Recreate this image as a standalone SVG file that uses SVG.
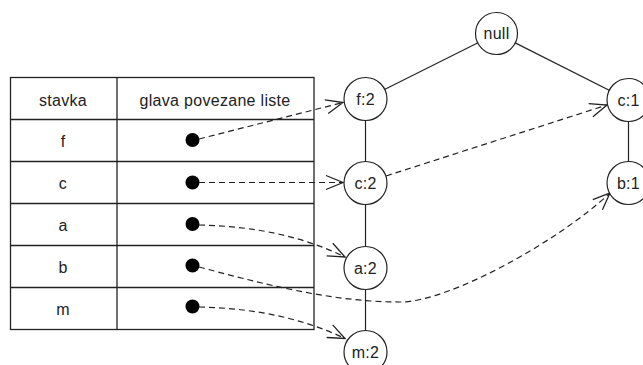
<svg xmlns="http://www.w3.org/2000/svg" width="643" height="365" viewBox="0 0 643 365">
  <defs>
    <marker id="open-arrow" markerUnits="userSpaceOnUse" markerWidth="40" markerHeight="40" viewBox="-20 -20 40 40" refX="0" refY="0" orient="auto" overflow="visible">
      <path d="M-17,-7 L0,0 L-17,7" fill="none" stroke="#222" stroke-width="1.3"/>
    </marker>
    <style>
      .grid { fill: none; stroke: #222; stroke-width: 1.3; }
      .txt { font-family: "Liberation Sans", Arial, sans-serif; font-size: 16px; letter-spacing: 0.3px; fill: #222; text-anchor: middle; }
      .node circle { fill: #fff; stroke: #222; stroke-width: 1.2; }
      .tree { stroke: #222; stroke-width: 1.2; fill: none; }
      .ptr { stroke: #222; stroke-width: 1.2; fill: none; stroke-dasharray: 6 4; marker-end: url(#open-arrow); }
      .dot { fill: #000; }
    </style>
  </defs>
  <rect width="643" height="365" fill="#fff"/>

  <!-- header table: item / linked-list head -->
  <g id="table">
    <rect class="grid" x="10.5" y="77.5" width="303.5" height="252"/>
    <line class="grid" x1="117" y1="77.5" x2="117" y2="329.5"/>
    <line class="grid" x1="10.5" y1="119.5" x2="314" y2="119.5"/>
    <line class="grid" x1="10.5" y1="161.5" x2="314" y2="161.5"/>
    <line class="grid" x1="10.5" y1="203.5" x2="314" y2="203.5"/>
    <line class="grid" x1="10.5" y1="245.5" x2="314" y2="245.5"/>
    <line class="grid" x1="10.5" y1="287.5" x2="314" y2="287.5"/>
    <text class="txt" x="63" y="105.5">stavka</text>
    <text class="txt" x="215" y="105.5">glava povezane liste</text>
    <text class="txt" x="63" y="146.5">f</text>
    <text class="txt" x="63" y="188.5">c</text>
    <text class="txt" x="63" y="230.5">a</text>
    <text class="txt" x="63" y="272.5">b</text>
    <text class="txt" x="63" y="314.5">m</text>
    <circle class="dot" cx="192.5" cy="140" r="7"/>
    <circle class="dot" cx="192.5" cy="182.5" r="7"/>
    <circle class="dot" cx="192.5" cy="224" r="7"/>
    <circle class="dot" cx="192.5" cy="265.5" r="7"/>
    <circle class="dot" cx="192.5" cy="306.5" r="7"/>
  </g>

  <!-- connectors: tree edges and node-link pointers -->
  <g id="connectors">
    <line class="tree" x1="496.5" y1="33.5" x2="365.5" y2="99"/>
    <line class="tree" x1="496.5" y1="33.5" x2="628.5" y2="100"/>
    <line class="tree" x1="365.5" y1="99" x2="365.5" y2="352"/>
    <line class="tree" x1="628.5" y1="100" x2="628.5" y2="183"/>

    <path class="ptr" d="M199,139 L343,102.5"/>
    <path class="ptr" d="M199,182.5 L343,182.5"/>
    <path class="ptr" d="M199,225 C250,226 300,235 345,257"/>
    <path class="ptr" d="M199,267 C260,283 330,302 400,302 C450,302 560,240 610,193"/>
    <path class="ptr" d="M199,307 C250,308 300,317 345,338.5"/>
    <path class="ptr" d="M386,176 L607,105"/>
  </g>

  <g id="node-null" class="node">
    <circle cx="496.5" cy="33.5" r="21"/>
    <text class="txt" x="496.5" y="39">null</text>
  </g>
  <g id="node-f2" class="node">
    <circle cx="365.5" cy="99" r="21.5"/>
    <text class="txt" x="365.5" y="105">f:2</text>
  </g>
  <g id="node-c2" class="node">
    <circle cx="365.5" cy="183" r="21.5"/>
    <text class="txt" x="365.5" y="189">c:2</text>
  </g>
  <g id="node-a2" class="node">
    <circle cx="365.5" cy="268" r="21.5"/>
    <text class="txt" x="365.5" y="274">a:2</text>
  </g>
  <g id="node-m2" class="node">
    <circle cx="365.5" cy="352" r="21.5"/>
    <text class="txt" x="365.5" y="358">m:2</text>
  </g>
  <g id="node-c1" class="node">
    <circle cx="628.5" cy="100" r="21.5"/>
    <text class="txt" x="628.5" y="106">c:1</text>
  </g>
  <g id="node-b1" class="node">
    <circle cx="628.5" cy="183" r="21.5"/>
    <text class="txt" x="628.5" y="189">b:1</text>
  </g>
</svg>
